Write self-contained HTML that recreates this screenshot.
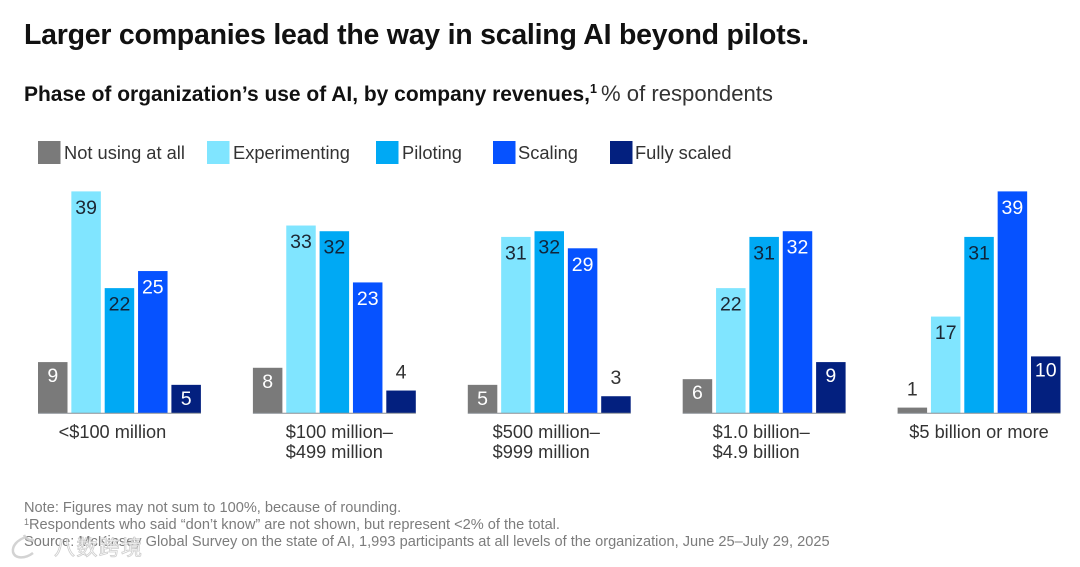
<!DOCTYPE html>
<html lang="en">
<head>
<meta charset="utf-8">
<title>Larger companies lead the way in scaling AI beyond pilots</title>
<style>
html,body{margin:0;padding:0;background:#fff}
body{width:1080px;height:567px;overflow:hidden}
svg{display:block;font-family:"Liberation Sans","Noto Sans CJK SC",sans-serif}
</style>
</head>
<body>
<svg id="chart" width="1080" height="567" viewBox="0 0 1080 567" xmlns="http://www.w3.org/2000/svg">
  <rect width="1080" height="567" fill="#ffffff"/>
  <text x="24" y="44" font-size="28.5" font-weight="700" fill="#111" textLength="785" lengthAdjust="spacing">Larger companies lead the way in scaling AI beyond pilots.</text>
  <text x="24" y="101" font-size="21.4" font-weight="700" fill="#111" textLength="566" lengthAdjust="spacingAndGlyphs">Phase of organization’s use of AI, by company revenues,</text>
  <text x="590" y="93" font-size="12.5" font-weight="700" fill="#111">1</text>
  <text x="601" y="101" font-size="22" fill="#333" textLength="172" lengthAdjust="spacingAndGlyphs">% of respondents</text>

  <g font-size="18.3" fill="#333">
    <g><rect x="38" y="141" width="22.5" height="23" fill="#7a7a7a"/><text x="64" y="159">Not using at all</text></g>
    <g><rect x="207" y="141" width="22.5" height="23" fill="#80e5ff"/><text x="233" y="159">Experimenting</text></g>
    <g><rect x="376" y="141" width="22.5" height="23" fill="#00a9f4"/><text x="402" y="159">Piloting</text></g>
    <g><rect x="493" y="141" width="22.5" height="23" fill="#0652ff"/><text x="518" y="159">Scaling</text></g>
    <g><rect x="610" y="141" width="22.5" height="23" fill="#03207f"/><text x="635" y="159">Fully scaled</text></g>
  </g>

  <g id="plot"></g>

  <g font-size="14.6" fill="#7c7c7c">
    <text x="24" y="512">Note: Figures may not sum to 100%, because of rounding.</text>
    <text x="24" y="529"><tspan font-size="9" dy="-4">1</tspan><tspan dy="4">Respondents who said “don’t know” are not shown, but represent &lt;2% of the total.</tspan></text>
    <text x="24" y="546">Source: McKinsey Global Survey on the state of AI, 1,993 participants at all levels of the organization, June 25–July 29, 2025</text>
  </g>

  <g opacity="0.9">
    <path d="M26 537c-9 3-14 9-13 15 2 7 12 7 20 1m-9-18c2 4 6 6 10 5" fill="none" stroke="#cfcfcf" stroke-width="2.5"/>
    <text x="54" y="555" font-size="21" font-family="'Noto Sans CJK SC',sans-serif" fill="#ffffff" stroke="#c9c9c9" stroke-width="0.8" textLength="88" lengthAdjust="spacing">八数跨境</text>
  </g>
</svg>

<script>
const categories = [
  ["<$100 million"],
  ["$100 million–", "$499 million"],
  ["$500 million–", "$999 million"],
  ["$1.0 billion–", "$4.9 billion"],
  ["$5 billion or more"]
];
const seriesNames = ["Not using at all", "Experimenting", "Piloting", "Scaling", "Fully scaled"];
const notUsing = [9, 8, 5, 6, 1];
const experimenting = [39, 33, 31, 22, 17];
const piloting = [22, 32, 32, 31, 31];
const scaling = [25, 23, 29, 32, 39];
const fullyScaled = [5, 4, 3, 9, 10];

const seriesValues = [notUsing, experimenting, piloting, scaling, fullyScaled];
const seriesFill = ["#7a7a7a", "#80e5ff", "#00a9f4", "#0652ff", "#03207f"];
const seriesInk = ["#ffffff", "#1c2733", "#10243a", "#ffffff", "#ffffff"];

const NS = "http://www.w3.org/2000/svg";
const plot = document.getElementById("plot");
const baseY = 413.3;
const unitPx = 5.69;
const groupStart = 38;
const groupStep = 214.9;
const barStep = 33.35;
const barWidth = 29.5;

function yScale(v) { return baseY - v * unitPx; }
function xScale(groupIndex, seriesIndex) { return groupStart + groupIndex * groupStep + seriesIndex * barStep; }
function slug(s) { return s.toLowerCase().replace(/[^a-z0-9]+/g, "-").replace(/^-|-$/g, ""); }
function labelNudge(g) {
  if (g === 0) return -7;
  if (g === 1) return 5;
  if (g === 2) return -3;
  if (g === 3) return -3;
  return 0;
}

categories.forEach(function (lines, g) {
  const group = document.createElementNS(NS, "g");
  
  
  plot.appendChild(group);

  seriesValues.forEach(function (values, s) {
    const v = values[g];
    const x = xScale(g, s);
    const top = yScale(v);

    const bar = document.createElementNS(NS, "rect");
    
    
    bar.setAttribute("x", x);
    bar.setAttribute("y", top);
    bar.setAttribute("width", barWidth);
    bar.setAttribute("height", baseY - top);
    bar.setAttribute("fill", seriesFill[s]);
    group.appendChild(bar);

    const inside = v >= 5;
    const label = document.createElementNS(NS, "text");
    
    
    label.setAttribute("x", x + barWidth / 2);
    label.setAttribute("y", inside ? top + (v <= 10 ? 20 : 22.5) : top - 12);
    label.setAttribute("text-anchor", "middle");
    label.setAttribute("font-size", "19.5");
    label.setAttribute("fill", inside ? seriesInk[s] : "#333333");
    label.textContent = v;
    group.appendChild(label);
  });

  const axisLine = document.createElementNS(NS, "line");
  
  
  axisLine.setAttribute("x1", xScale(g, 0));
  axisLine.setAttribute("x2", xScale(g, 4) + barWidth);
  axisLine.setAttribute("y1", baseY);
  axisLine.setAttribute("y2", baseY);
  axisLine.setAttribute("stroke", "#8a8f96");
  axisLine.setAttribute("stroke-width", "1");
  group.appendChild(axisLine);

  const tick = document.createElementNS(NS, "text");
  
  
  tick.setAttribute("font-size", "18.2");
  tick.setAttribute("fill", "#333333");
  group.appendChild(tick);
  const spans = lines.map(function (line, i) {
    const span = document.createElementNS(NS, "tspan");
    span.setAttribute("y", 438 + i * 20);
    span.textContent = line;
    tick.appendChild(span);
    return span;
  });
  const widest = Math.max.apply(null, spans.map(function (sp) { return sp.getComputedTextLength(); }));
  const centre = xScale(g, 2) + barWidth / 2 + labelNudge(g);
  spans.forEach(function (sp) { sp.setAttribute("x", centre - widest / 2); });
});
</script>
</body>
</html>
